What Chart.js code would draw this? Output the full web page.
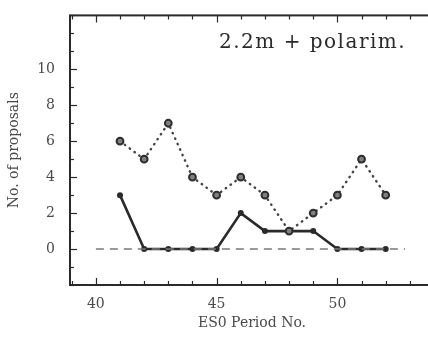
<!DOCTYPE html>
<html>
<head>
<meta charset="utf-8">
<script src="https://cdn.jsdelivr.net/npm/chart.js@4.4.0/dist/chart.umd.min.js"></script>
<style>
  html, body { margin: 0; padding: 0; background: #fff; overflow: hidden; }
  #wrap { width: 440px; height: 338px; }
</style>
</head>
<body>
<div id="wrap"><canvas id="proposalsChart" width="440" height="338"></canvas></div>
<script>
// ESO period numbers and proposal counts
const periods = [41, 42, 43, 44, 45, 46, 47, 48, 49, 50, 51, 52];
const totalProposals = [6, 5, 7, 4, 3, 4, 3, 1, 2, 3, 5, 3];
const polarimProposals = [3, 0, 0, 0, 0, 2, 1, 1, 1, 0, 0, 0];
const zeroLineX = [40, 52.8];
const zeroLineY = [0, 0];
const xTickLabels = [40, 45, 50];
const yTickLabels = [0, 2, 4, 6, 8, 10];
const panelTitle = '2.2m + polarim.';

const ink = '#2a2a2a';
const serif = "'DejaVu Serif', 'Liberation Serif', serif";

function toPoints(xs, ys) {
    return xs.map((x, i) => ({x: x, y: ys[i]}));
}

// frame around the plot with small inward ticks, plus the panel label
const framePlugin = {
    id: 'frame',
    afterDraw(chart) {
        const {ctx, chartArea: a, scales: {x, y}} = chart;
        ctx.save();
        ctx.strokeStyle = ink;
        ctx.lineWidth = 2;
        ctx.strokeRect(a.left, a.top, a.right - a.left, a.bottom - a.top);

        ctx.lineWidth = 1.2;
        for (let v = Math.ceil(x.min); v <= x.max; v++) {
            const px = Math.round(x.getPixelForValue(v)) + 0.5;
            const len = xTickLabels.includes(v) ? 7 : 4;
            ctx.beginPath();
            ctx.moveTo(px, a.bottom); ctx.lineTo(px, a.bottom - len);
            ctx.moveTo(px, a.top); ctx.lineTo(px, a.top + len);
            ctx.stroke();
        }
        for (let v = Math.ceil(y.min); v <= y.max; v++) {
            const py = Math.round(y.getPixelForValue(v)) + 0.5;
            const len = yTickLabels.includes(v) ? 7 : 4;
            ctx.beginPath();
            ctx.moveTo(a.left, py); ctx.lineTo(a.left + len, py);
            ctx.stroke();
        }

        ctx.fillStyle = ink;
        ctx.font = '20px ' + serif;
        ctx.letterSpacing = '1.5px';
        ctx.textAlign = 'left';
        ctx.textBaseline = 'alphabetic';
        ctx.fillText(panelTitle, a.left + 149, a.top + 33);
        ctx.restore();
    }
};

new Chart(document.getElementById('proposalsChart').getContext('2d'), {
    type: 'line',
    data: {
        datasets: [
            {
                label: 'zero',
                data: toPoints(zeroLineX, zeroLineY),
                borderColor: '#7a7a7a',
                borderWidth: 1.5,
                borderDash: [8, 6],
                pointRadius: 0
            },
            {
                label: 'all',
                data: toPoints(periods, totalProposals),
                borderColor: '#444',
                borderWidth: 2.4,
                borderDash: [0.5, 5.5],
                borderCapStyle: 'round',
                pointRadius: 3.4,
                pointBorderWidth: 2,
                pointBorderColor: '#2e2e2e',
                pointBackgroundColor: '#808080'
            },
            {
                label: 'polarim',
                data: toPoints(periods, polarimProposals),
                borderColor: ink,
                borderWidth: 2.6,
                pointRadius: 3,
                pointBorderWidth: 0,
                pointBackgroundColor: ink
            }
        ]
    },
    options: {
        responsive: false,
        animation: false,
        events: [],
        layout: {padding: {top: 4, right: 5, left: 0, bottom: 0}},
        plugins: {
            legend: {display: false},
            tooltip: {enabled: false}
        },
        scales: {
            x: {
                type: 'linear',
                min: 38.93,
                max: 54,
                afterFit: function(scale) { scale.height = 53; },
                afterBuildTicks: function(scale) {
                    scale.ticks = xTickLabels.map(v => ({value: v}));
                },
                grid: {display: false},
                border: {display: false},
                ticks: {
                    color: '#4a4a4a',
                    padding: 3,
                    maxRotation: 0,
                    font: {family: serif, size: 14}
                },
                title: {
                    display: true,
                    text: 'ES0 Period No.',
                    color: '#4a4a4a',
                    padding: {top: 0, bottom: 6},
                    font: {family: serif, size: 14}
                }
            },
            y: {
                type: 'linear',
                min: -2,
                max: 13,
                afterFit: function(scale) { scale.width = 70; },
                afterBuildTicks: function(scale) {
                    scale.ticks = yTickLabels.map(v => ({value: v}));
                },
                grid: {display: false},
                border: {display: false},
                ticks: {
                    color: '#4a4a4a',
                    padding: 7,
                    font: {family: serif, size: 14}
                },
                title: {
                    display: true,
                    text: 'No. of proposals',
                    color: '#4a4a4a',
                    padding: {top: 6, bottom: 0},
                    font: {family: serif, size: 14}
                }
            }
        }
    },
    plugins: [framePlugin]
});
</script>
</body>
</html>
